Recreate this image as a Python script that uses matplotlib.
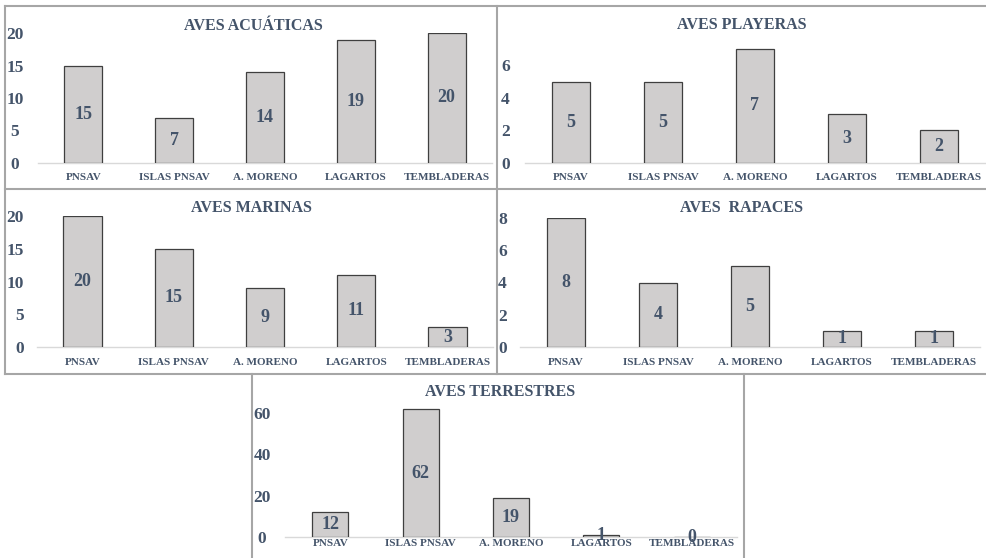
import matplotlib as mpl
import matplotlib.pyplot as plt
from matplotlib.lines import Line2D

mpl.rc('font', family='Liberation Serif', weight='bold')

sites = ['PNSAV', 'ISLAS PNSAV', 'A. MORENO', 'LAGARTOS', 'TEMBLADERAS']

acuaticas = [15, 7, 14, 19, 20]
playeras = [5, 5, 7, 3, 2]
marinas = [20, 15, 9, 11, 3]
rapaces = [8, 4, 5, 1, 1]
terrestres = [12, 62, 19, 1, 0]

W, H = 987, 558
TEXT = '#44546a'
BAR = '#d0cece'
EDGE = '#3f3f3f'
FRAME = '#a6a6a6'

fig = plt.figure(figsize=(W / 100, H / 100), dpi=100)


def px_box(l, t, r, b):
    # pixel box (from top-left) -> figure fraction rect
    return [l / W, 1 - b / H, (r - l) / W, (b - t) / H]


def panel(box, title, title_xy, values, ymax, yticks, ypad, yha, xpad, width=0.42):
    ax = fig.add_axes(px_box(*box))
    bars = ax.bar(range(len(sites)), values, width=width, color=BAR,
                  edgecolor=EDGE, linewidth=0.9, zorder=3)
    ax.bar_label(bars, label_type='center', color=TEXT, fontsize=13,
                 fontweight='bold')
    ax.set_xlim(-0.5, len(sites) - 0.5)
    ax.set_ylim(0, ymax)
    ax.set_yticks(yticks)
    ax.set_xticks(range(len(sites)))
    ax.set_xticklabels(sites, fontsize=8, color=TEXT)
    for lab in ax.get_yticklabels():
        lab.set_horizontalalignment(yha)
        lab.set_color(TEXT)
        lab.set_fontsize(12.5)
    ax.tick_params(axis='y', length=0, pad=ypad * 0.72)
    ax.tick_params(axis='x', length=0, pad=xpad * 0.72)
    for s in ['top', 'right', 'left']:
        ax.spines[s].set_visible(False)
    ax.spines['bottom'].set_color('#d9d9d9')
    ax.spines['bottom'].set_linewidth(1)
    ax.patch.set_alpha(0)
    fig.text(title_xy[0] / W, 1 - title_xy[1] / H, title, ha='center',
             va='center', fontsize=11.5, color=TEXT, fontweight='bold')
    return ax


panel((38, 33, 492, 163), 'AVES ACUÁTICAS', (253, 26), acuaticas,
      20, [0, 5, 10, 15, 20], 23, 'center', 10)
panel((525, 32.6, 985, 163), 'AVES PLAYERAS', (742, 25), playeras,
      8, [0, 2, 4, 6], 15, 'right', 10)
panel((37, 216, 493, 347), 'AVES MARINAS', (251, 208), marinas,
      20, [0, 5, 10, 15, 20], 13, 'right', 11)
panel((520, 218, 980, 347), 'AVES  RAPACES', (742, 208), rapaces,
      8, [0, 2, 4, 6, 8], 13, 'right', 11)
panel((285, 392.5, 737, 537), 'AVES TERRESTRES', (500, 392), terrestres,
      70, [0, 20, 40, 60], 23, 'center', 2, width=0.4)

# panel frames
frame_lines = [
    ((5, 986), (6, 6)), ((5, 986), (189, 189)), ((5, 986), (374, 374)),
    ((5, 5), (6, 374)), ((497, 497), (6, 374)),
    ((252, 252), (374, 558)), ((744, 744), (374, 558)),
]
for xs, ys in frame_lines:
    fig.add_artist(Line2D([x / W for x in xs], [1 - y / H for y in ys],
                          color=FRAME, linewidth=1.5, transform=fig.transFigure))

plt.savefig('out.png', dpi=100)
